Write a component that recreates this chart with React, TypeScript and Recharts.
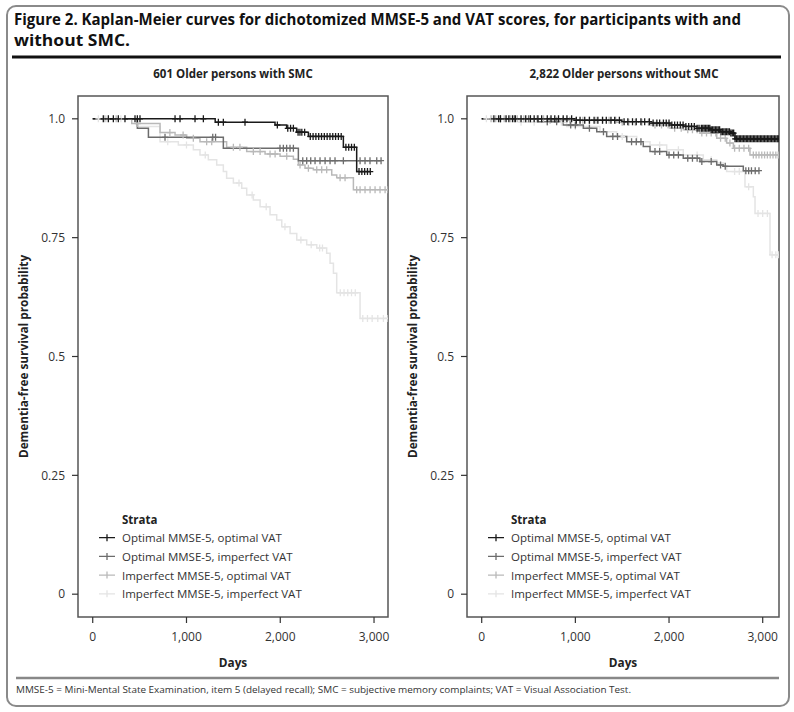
import React from 'react';
import { LineChart, Line, XAxis, YAxis, Legend, ReferenceArea } from 'recharts';

const FONT = "'Open Sans', 'Noto Sans', sans-serif";

const STRATA = [
  'Optimal MMSE-5, optimal VAT',
  'Optimal MMSE-5, imperfect VAT',
  'Imperfect MMSE-5, optimal VAT',
  'Imperfect MMSE-5, imperfect VAT',
];
const COLORS = ['#1a1a1a', '#6c6c6c', '#b9b9b9', '#e4e4e4'];
const X_TICKS = [0, 1000, 2000, 3000];
const Y_TICKS = [0, 0.25, 0.5, 0.75, 1];

const PANEL_TITLES = ['601 Older persons with SMC', '2,822 Older persons without SMC'];

// ---- Participants with SMC ----
const smcOoT = [1306, 1944, 2068, 2175, 2300, 2673, 2815];
const smcOoS = [0.993, 0.987, 0.98, 0.972, 0.963, 0.94, 0.889];
const smcOoC = [113, 167, 220, 273, 344, 451, 476, 504, 878, 931, 1091, 1180, 1340, 1393, 1624, 1969, 2080, 2110, 2140, 2190, 2210, 2230, 2260, 2320, 2350, 2380, 2410, 2440, 2470, 2500, 2530, 2560, 2590, 2620, 2650, 2700, 2730, 2760, 2790, 2840, 2870, 2900, 2930, 2960];

const smcOiT = [476, 594, 1393, 2193];
const smcOiS = [0.98, 0.961, 0.938, 0.912];
const smcOiC = [771, 1280, 1310, 1997, 2033, 2068, 2104, 2140, 2240, 2282, 2325, 2371, 2424, 2478, 2531, 2584, 2673, 2851, 2904, 2957, 3029, 3075];

const smcIoT = [416, 718, 878, 1002, 1144, 1428, 1642, 1838, 1998, 2140, 2193, 2264, 2353, 2549, 2602, 2780];
const smcIoS = [0.99, 0.971, 0.966, 0.959, 0.952, 0.94, 0.931, 0.926, 0.921, 0.915, 0.903, 0.896, 0.893, 0.882, 0.876, 0.851];
const smcIoC = [130, 250, 480, 823, 964, 1073, 1215, 1269, 1500, 1570, 1713, 1785, 1891, 1945, 2069, 2211, 2300, 2389, 2442, 2495, 2638, 2691, 2815, 2851, 2904, 2958, 3011, 3064, 3118, 3149];

const smcIiT = [469, 718, 913, 1073, 1144, 1233, 1322, 1393, 1428, 1500, 1589, 1642, 1713, 1785, 1891, 1962, 2016, 2105, 2176, 2282, 2389, 2495, 2531, 2567, 2602, 2851];
const smcIiS = [0.984, 0.952, 0.945, 0.935, 0.924, 0.914, 0.903, 0.889, 0.875, 0.865, 0.854, 0.84, 0.829, 0.815, 0.798, 0.787, 0.773, 0.759, 0.745, 0.735, 0.728, 0.717, 0.696, 0.675, 0.634, 0.58];
const smcIiC = [60, 150, 300, 800, 1000, 1200, 1560, 1700, 1850, 2050, 2220, 2330, 2420, 2450, 2640, 2680, 2720, 2760, 2800, 2880, 2930, 2980, 3040, 3100, 3149];

// ---- Participants without SMC ----
const nsOoT = [1000, 1500, 1797, 2010, 2152, 2295, 2437, 2544, 2651, 2704];
const nsOoS = [0.997, 0.994, 0.991, 0.987, 0.984, 0.98, 0.977, 0.973, 0.97, 0.958];
const nsOoC = [130, 180, 200, 260, 290, 330, 360, 420, 470, 520, 560, 600, 640, 700, 740, 780, 820, 870, 910, 960, 1010, 1050, 1100, 1150, 1200, 1240, 1290, 1330, 1380, 1420, 1470, 1520, 1560, 1610, 1650, 1700, 1740, 1790, 1830, 1870, 1900, 1940, 1970, 2000, 2030, 2060, 2090, 2120, 2150, 2180, 2210, 2240, 2270, 2300, 2320, 2345, 2360, 2375, 2390, 2405, 2420, 2435, 2450, 2465, 2480, 2495, 2510, 2525, 2540, 2555, 2570, 2585, 2600, 2615, 2630, 2645, 2660, 2675, 2690, 2705, 2720, 2735, 2750, 2765, 2780, 2795, 2810, 2825, 2840, 2855, 2870, 2885, 2900, 2915, 2930, 2945, 2960, 2975, 2990, 3005, 3020, 3035, 3050, 3065, 3080, 3095, 3110, 3125, 3140, 3155, 3166];

const nsOiT = [600, 871, 1085, 1228, 1334, 1548, 1725, 1797, 1975, 2152, 2330, 2509, 2580, 2793];
const nsOiS = [0.994, 0.987, 0.98, 0.973, 0.963, 0.952, 0.942, 0.931, 0.924, 0.917, 0.91, 0.903, 0.9, 0.891];
const nsOiC = [200, 350, 500, 700, 800, 950, 1000, 1150, 1300, 1400, 1450, 1600, 1650, 1700, 1850, 1900, 2000, 2050, 2100, 2200, 2250, 2300, 2350, 2450, 2550, 2600, 2820, 2850, 2880, 2920, 2960];

const nsIoT = [700, 1441, 1797, 2010, 2152, 2330, 2509, 2615, 2687, 2864];
const nsIoS = [0.997, 0.993, 0.987, 0.98, 0.977, 0.97, 0.959, 0.949, 0.938, 0.924];
const nsIoC = [100, 150, 240, 310, 380, 450, 520, 590, 660, 730, 800, 870, 940, 1010, 1080, 1150, 1220, 1290, 1360, 1430, 1500, 1570, 1640, 1710, 1780, 1850, 1920, 1990, 2060, 2130, 2200, 2250, 2300, 2350, 2400, 2450, 2500, 2550, 2600, 2650, 2700, 2750, 2800, 2850, 2900, 2930, 2960, 2990, 3020, 3050, 3080, 3110, 3140, 3166];

const nsIiT = [400, 907, 1263, 1441, 1655, 1797, 1975, 2152, 2366, 2509, 2580, 2615, 2811, 2900, 2918, 3078];
const nsIiS = [0.993, 0.984, 0.973, 0.963, 0.952, 0.945, 0.935, 0.924, 0.914, 0.907, 0.9, 0.889, 0.857, 0.836, 0.801, 0.714];
const nsIiC = [50, 120, 200, 300, 420, 560, 700, 850, 1000, 1150, 1300, 1500, 1700, 1900, 2100, 2300, 2450, 2700, 2750, 2850, 2950, 3000, 3050, 3100, 3140, 3166];

type Pt = { t: number; s: number; c: boolean };

function buildCurve(evT: number[], evS: number[], cenT: number[]): Pt[] {
  const pts: Pt[] = [{ t: 0, s: 1, c: false }];
  evT.forEach((t, i) => pts.push({ t, s: evS[i], c: false }));
  cenT.forEach((t) => {
    let s = 1;
    evT.forEach((et, i) => {
      if (et <= t) s = evS[i];
    });
    pts.push({ t, s, c: true });
  });
  pts.sort((a, b) => a.t - b.t || (a.c ? 1 : 0) - (b.c ? 1 : 0));
  return pts;
}

const smcCurves = [
  buildCurve(smcOoT, smcOoS, smcOoC),
  buildCurve(smcOiT, smcOiS, smcOiC),
  buildCurve(smcIoT, smcIoS, smcIoC),
  buildCurve(smcIiT, smcIiS, smcIiC),
];
const nsCurves = [
  buildCurve(nsOoT, nsOoS, nsOoC),
  buildCurve(nsOiT, nsOiS, nsOiC),
  buildCurve(nsIoT, nsIoS, nsIoC),
  buildCurve(nsIiT, nsIiS, nsIiC),
];

const makeDot = (color: string) => (p: any) => {
  const { cx, cy, payload, index } = p;
  if (!payload || !payload.c || cx == null || cy == null) return <g key={`d${index}`} />;
  return (
    <path
      key={`d${index}`}
      d={`M${cx},${cy - 3.5}V${cy + 3.5}M${cx - 3},${cy}H${cx + 3}`}
      stroke={color}
      strokeWidth={1.3}
      fill="none"
    />
  );
};

const fmtX = (v: number) => v.toLocaleString('en-US');
const fmtY = (v: number) => (v === 1 ? '1.0' : String(v));

const YLabel = (props: any) => {
  const vb = props.viewBox || { x: 0, y: 0, width: 0, height: 0 };
  const cx = vb.x + 14.5;
  const cy = vb.y + vb.height / 2;
  return (
    <text
      x={cx}
      y={cy}
      transform={`rotate(-90, ${cx}, ${cy})`}
      textAnchor="middle"
      dominantBaseline="central"
      fontWeight="bold"
      fontSize={11.8}
      fill="#222"
      fontFamily={FONT}
    >
      Dementia-free survival probability
    </text>
  );
};

const XLabel = (props: any) => {
  const vb = props.viewBox || { x: 0, y: 0, width: 0, height: 0 };
  const cx = vb.x + vb.width / 2;
  const cy = vb.y + 45;
  return (
    <text x={cx} y={cy} textAnchor="middle" dominantBaseline="central" fontWeight="bold" fontSize={11.8} fill="#222" fontFamily={FONT}>
      Days
    </text>
  );
};

const LegendBox = (props: any) => {
  const payload: any[] = props.payload || [];
  const items = STRATA.map((name, i) => {
    const found = payload.find((p) => p.value === name);
    return { name, color: found ? found.color : COLORS[i] };
  });
  return (
    <svg width={240} height={96} style={{ display: 'block', overflow: 'visible' }}>
      <text x={32} y={11} dominantBaseline="central" fontWeight="bold" fontSize={11.5} fill="#222" fontFamily={FONT}>
        Strata
      </text>
      {items.map((it, i) => {
        const y = 29.7 + i * 18.7;
        return (
          <g key={it.name}>
            <path d={`M9,${y}H25M17,${y - 3.5}V${y + 3.5}`} stroke={it.color} strokeWidth={1.3} fill="none" />
            <text x={32} y={y} dominantBaseline="central" fontSize={11.5} fill="#333" fontFamily={FONT}>
              {it.name}
            </text>
          </g>
        );
      })}
    </svg>
  );
};

function Panel({ left, curves, xMax, marginRight }: { left: number; curves: Pt[][]; xMax: number; marginRight: number }) {
  const order = [3, 2, 1, 0];
  return (
    <div style={{ position: 'absolute', left, top: 60 }}>
      <LineChart width={400} height={610} margin={{ top: 36, right: marginRight, bottom: 3, left: 8 }}>
        <XAxis
          type="number"
          dataKey="t"
          domain={[-157, xMax]}
          ticks={X_TICKS}
          allowDataOverflow
          axisLine={false}
          tickSize={6}
          tickMargin={9}
          height={50}
          tickFormatter={fmtX}
          tick={{ fill: '#333', fontSize: 12, fontFamily: FONT }}
          tickLine={{ stroke: '#333', strokeWidth: 1.2 }}
          label={{ content: XLabel } as any}
        />
        <YAxis
          type="number"
          domain={[-0.048, 1.048]}
          ticks={Y_TICKS}
          allowDataOverflow
          width={70}
          axisLine={false}
          tickSize={6}
          tickMargin={7}
          tickFormatter={fmtY}
          tick={{ fill: '#333', fontSize: 12, fontFamily: FONT }}
          tickLine={{ stroke: '#333', strokeWidth: 1.2 }}
          label={{ content: YLabel } as any}
        />
        <ReferenceArea x1={-157} x2={xMax} y1={-0.048} y2={1.048} fill="none" stroke="#555" strokeWidth={1.5} ifOverflow="visible" />
        {order.map((i) => (
          <Line
            key={STRATA[i]}
            name={STRATA[i]}
            data={curves[i]}
            dataKey="s"
            type="stepAfter"
            stroke={COLORS[i]}
            strokeWidth={1.5}
            dot={makeDot(COLORS[i])}
            activeDot={false}
            isAnimationActive={false}
          />
        ))}
        <Legend
          layout="horizontal"
          verticalAlign="middle"
          align="center"
          content={<LegendBox />}
          wrapperStyle={{ left: 90, top: 448, width: 240, height: 96 }}
        />
      </LineChart>
    </div>
  );
}

export default function App() {
  return (
    <div style={{ position: 'absolute', left: 0, top: 0, width: 794, height: 712, background: '#fff', fontFamily: FONT }}>
      <svg width={794} height={712} style={{ position: 'absolute', left: 0, top: 0 }}>
        <rect x={7} y={6} width={782} height={700} rx={9} ry={9} fill="none" stroke="#8a8a8a" strokeWidth={2} />
        <text x={14} y={25} fontWeight="bold" fontSize={15.5} fill="#111" fontFamily={FONT} textLength={727} lengthAdjust="spacingAndGlyphs">
          Figure 2. Kaplan-Meier curves for dichotomized MMSE-5 and VAT scores, for participants with and
        </text>
        <text x={14} y={46} fontWeight="bold" fontSize={15.5} fill="#111" fontFamily={FONT} textLength={116} lengthAdjust="spacingAndGlyphs">
          without SMC.
        </text>
        <line x1={12} y1={57} x2={781} y2={57} stroke="#111" strokeWidth={3} />
        <text x={233} y={78} textAnchor="middle" fontWeight="bold" fontSize={11.5} fill="#222" fontFamily={FONT}>
          {PANEL_TITLES[0]}
        </text>
        <text x={624} y={78} textAnchor="middle" fontWeight="bold" fontSize={11.5} fill="#222" fontFamily={FONT}>
          {PANEL_TITLES[1]}
        </text>
        <line x1={16} y1={678} x2={779} y2={678} stroke="#888" strokeWidth={2.5} />
        <text x={16} y={693} fontSize={9.5} fill="#333" fontFamily={FONT} textLength={615} lengthAdjust="spacingAndGlyphs">
          MMSE-5 = Mini-Mental State Examination, item 5 (delayed recall); SMC = subjective memory complaints; VAT = Visual Association Test.
        </text>
      </svg>
      <Panel left={0} curves={smcCurves} xMax={3149} marginRight={12} />
      <Panel left={389} curves={nsCurves} xMax={3174} marginRight={10} />
    </div>
  );
}
